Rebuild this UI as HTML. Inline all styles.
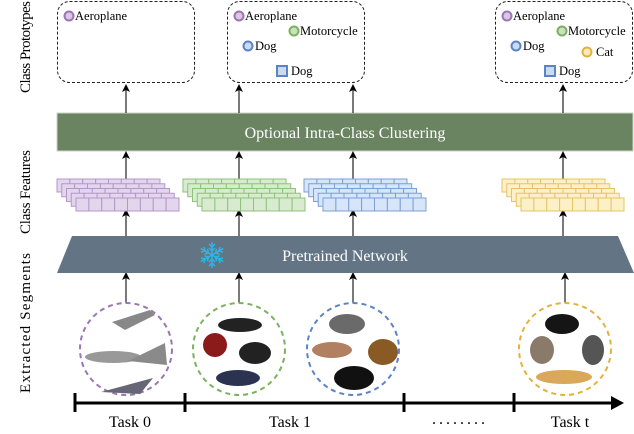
<!DOCTYPE html>
<html><head><meta charset="utf-8"><style>
html,body{margin:0;padding:0;background:#fff;width:634px;height:434px;overflow:hidden}
text{font-family:"Liberation Serif",serif}
</style></head><body>
<svg width="634" height="434" viewBox="0 0 634 434" xmlns="http://www.w3.org/2000/svg">
<defs>
<marker id="ah" markerWidth="8" markerHeight="8" refX="4" refY="4" orient="auto" markerUnits="userSpaceOnUse">
<path d="M0,0 L8,4 L0,8 L2,4 z" fill="#000"/></marker>
</defs>
<!-- left labels -->
<text transform="translate(30,47) rotate(-90)" font-size="15" text-anchor="middle" textLength="92" lengthAdjust="spacing">Class Prototypes</text>
<text transform="translate(30,192) rotate(-90)" font-size="15" text-anchor="middle" textLength="84" lengthAdjust="spacing">Class Features</text>
<text transform="translate(30,323) rotate(-90)" font-size="15" text-anchor="middle" textLength="140" lengthAdjust="spacing">Extracted Segments</text>

<!-- prototype boxes -->
<g fill="none" stroke="#222" stroke-dasharray="3,2" stroke-width="1">
<rect x="57.5" y="1.5" width="137" height="81" rx="12"/>
<rect x="227.5" y="1.5" width="137" height="81" rx="12"/>
<rect x="495.5" y="1.5" width="137" height="81" rx="12"/>
</g>
<g font-size="12.5">
<circle cx="69" cy="16" r="4.5" fill="#d9c7e3" stroke="#9b75b4" stroke-width="2"/><text x="75" y="20">Aeroplane</text>
<circle cx="239" cy="16" r="4.5" fill="#d9c7e3" stroke="#9b75b4" stroke-width="2"/><text x="245" y="20">Aeroplane</text>
<circle cx="294" cy="31" r="4.5" fill="#c9e2bd" stroke="#7ab25f" stroke-width="2"/><text x="300" y="35">Motorcycle</text>
<circle cx="248" cy="46" r="4.5" fill="#c9daf2" stroke="#5b84c4" stroke-width="2"/><text x="255" y="50">Dog</text>
<rect x="277" y="66" width="10" height="10" fill="#c9daf2" stroke="#5b84c4" stroke-width="2"/><text x="291" y="75">Dog</text>
<circle cx="507" cy="16" r="4.5" fill="#d9c7e3" stroke="#9b75b4" stroke-width="2"/><text x="513" y="20">Aeroplane</text>
<circle cx="562" cy="31" r="4.5" fill="#c9e2bd" stroke="#7ab25f" stroke-width="2"/><text x="568" y="35">Motorcycle</text>
<circle cx="516" cy="46" r="4.5" fill="#c9daf2" stroke="#5b84c4" stroke-width="2"/><text x="523" y="50">Dog</text>
<circle cx="587" cy="52" r="4.5" fill="#fbe9b8" stroke="#e2b33c" stroke-width="2"/><text x="596" y="56">Cat</text>
<rect x="545" y="66" width="10" height="10" fill="#c9daf2" stroke="#5b84c4" stroke-width="2"/><text x="559" y="75">Dog</text>
</g>

<!-- green bar -->
<rect x="57" y="113" width="576" height="38" fill="#6a8462" stroke="#c9d6c4" stroke-width="1"/>
<text x="345" y="138" font-size="16" fill="#fff" text-anchor="middle">Optional Intra-Class Clustering</text>

<!-- arrows -->
<g stroke="#333" stroke-width="1.3" marker-end="url(#ah)">
<line x1="126" y1="113" x2="126" y2="88"/>
<line x1="239" y1="113" x2="239" y2="88"/>
<line x1="353" y1="113" x2="353" y2="88"/>
<line x1="563" y1="113" x2="563" y2="88"/>
<line x1="126" y1="179" x2="126" y2="155"/>
<line x1="239" y1="179" x2="239" y2="155"/>
<line x1="353" y1="179" x2="353" y2="155"/>
<line x1="563" y1="179" x2="563" y2="155"/>
<line x1="126" y1="236" x2="126" y2="213"/>
<line x1="239" y1="236" x2="239" y2="213"/>
<line x1="353" y1="236" x2="353" y2="213"/>
<line x1="563" y1="236" x2="563" y2="213"/>
<line x1="126" y1="303" x2="126" y2="276"/>
<line x1="239" y1="303" x2="239" y2="276"/>
<line x1="353" y1="303" x2="353" y2="276"/>
<line x1="565" y1="303" x2="565" y2="276"/>
</g>

<g id="stacks"></g>

<!-- trapezoid -->
<polygon points="72,236 618,236 634,273 57,273" fill="#637585"/>
<text x="345" y="261" font-size="16" fill="#fff" text-anchor="middle">Pretrained Network</text>
<g stroke="#2fb4ea" stroke-width="1.5" fill="none" transform="translate(212,255)">
<g id="arm"><line x1="0" y1="0" x2="0" y2="-13"/><polyline points="-3,-11 0,-8 3,-11"/><polyline points="-3,-7 0,-4 3,-7"/></g>
<use href="#arm" transform="rotate(60)"/><use href="#arm" transform="rotate(120)"/><use href="#arm" transform="rotate(180)"/><use href="#arm" transform="rotate(240)"/><use href="#arm" transform="rotate(300)"/>
</g>

<!-- circles -->
<g fill="none" stroke-width="2" stroke-dasharray="5,4">
<circle cx="126" cy="349" r="46" stroke="#9b75b4"/>
<circle cx="239" cy="349" r="46" stroke="#7ab25f"/>
<circle cx="353" cy="349" r="46" stroke="#5b84c4"/>
<circle cx="565" cy="349" r="46" stroke="#e2b33c"/>
</g>
<g>
<path d="M112,322 L150,310 L155,315 L125,330 z" fill="#888"/>
<ellipse cx="113" cy="357" rx="28" ry="6" fill="#999"/>
<path d="M128,361 L165,343 L167,365 z" fill="#8a8a8a"/>
<path d="M101,392 L153,378 L140,394 z" fill="#667"/>
<ellipse cx="240" cy="325" rx="22" ry="7" fill="#222"/>
<ellipse cx="215" cy="345" rx="12" ry="12" fill="#8b1a1a"/>
<ellipse cx="255" cy="353" rx="16" ry="11" fill="#222"/>
<ellipse cx="238" cy="378" rx="22" ry="8" fill="#2b3350"/>
<ellipse cx="347" cy="324" rx="18" ry="10" fill="#6a6a6a"/>
<ellipse cx="332" cy="350" rx="20" ry="8" fill="#b08060"/>
<ellipse cx="383" cy="352" rx="15" ry="13" fill="#8a5a25"/>
<ellipse cx="354" cy="378" rx="20" ry="12" fill="#111"/>
<ellipse cx="562" cy="324" rx="17" ry="10" fill="#151515"/>
<ellipse cx="542" cy="350" rx="12" ry="14" fill="#8a7a6a"/>
<ellipse cx="593" cy="350" rx="11" ry="15" fill="#555"/>
<ellipse cx="564" cy="377" rx="28" ry="7" fill="#d9a85a"/>
</g>

<!-- timeline -->
<g stroke="#000" stroke-width="3">
<line x1="75" y1="403" x2="616" y2="403"/>
<line x1="75" y1="393" x2="75" y2="412"/>
<line x1="185" y1="393" x2="185" y2="412"/>
<line x1="404" y1="393" x2="404" y2="412"/>
<line x1="514" y1="393" x2="514" y2="412"/>
</g>
<path d="M611,396 L624,403 L611,410 z" fill="#000"/>
<g font-size="16" text-anchor="middle">
<text x="130" y="427">Task 0</text>
<text x="290" y="427">Task 1</text>
<text x="460" y="424" letter-spacing="3">........</text>
<text x="570" y="427">Task t</text>
</g>
</svg>
<script>
(function(){
var ns="http://www.w3.org/2000/svg",g=document.getElementById("stacks");
var S=[[57,"#e3d6ec","#b496c8"],[183,"#d8ebd0","#8fc27a"],[304,"#d7e5f8","#7c9fd6"],[502,"#fcf0c8","#e6c466"]];
S.forEach(function(s){
 for(var i=0;i<5;i++){
  var x=s[0]+i*4.75,y=179+i*4.75,w=103,h=13;
  for(var c=0;c<8;c++){
   var r=document.createElementNS(ns,"rect");
   r.setAttribute("x",x+c*w/8);r.setAttribute("y",y);
   r.setAttribute("width",w/8);r.setAttribute("height",h);
   r.setAttribute("fill",s[1]);r.setAttribute("stroke",s[2]);r.setAttribute("stroke-width","1");
   g.appendChild(r);
  }
 }
});
})();
</script>
</body></html>
